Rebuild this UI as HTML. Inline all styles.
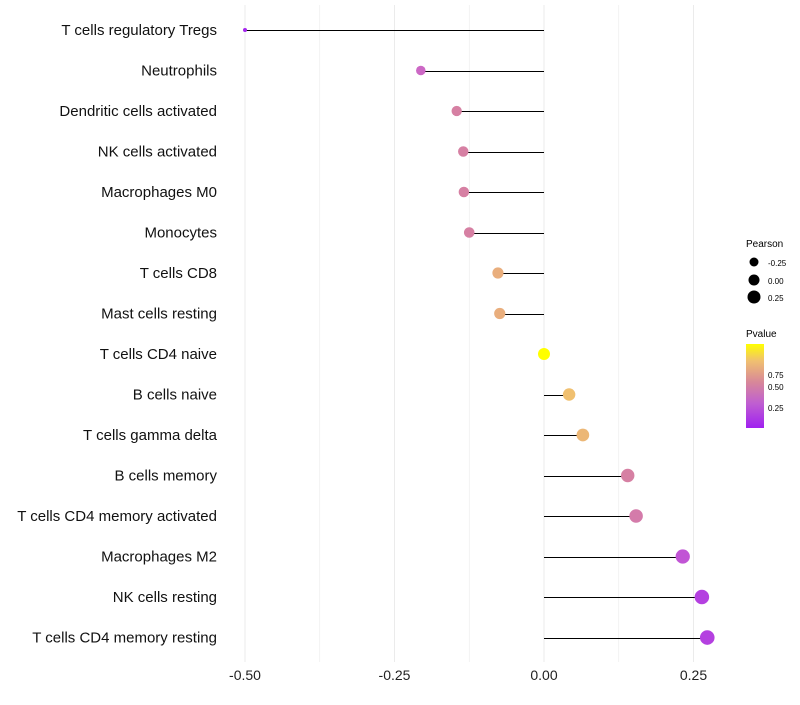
<!DOCTYPE html>
<html><head><meta charset="utf-8"><style>
body{margin:0;background:#fff;font-family:"Liberation Sans",sans-serif}
</style></head><body>
<svg id="c" width="800" height="700" xmlns="http://www.w3.org/2000/svg">
<defs><linearGradient id="pg" x1="0" y1="1" x2="0" y2="0">
<stop offset="0" stop-color="#a020f0"/><stop offset="0.3" stop-color="#c060d0"/><stop offset="0.55" stop-color="#d88898"/><stop offset="0.8" stop-color="#f0c070"/><stop offset="1" stop-color="#ffff00"/></linearGradient></defs>
<g id="grid"></g><g id="marks"></g><g id="labels"></g>
<g font-size="10" fill="#000">
<text x="746" y="247">Pearson</text>
<circle cx="754" cy="262" r="4.5"/><text x="768" y="266" font-size="8">-0.25</text>
<circle cx="754" cy="280" r="5.5"/><text x="768" y="284" font-size="8">0.00</text>
<circle cx="754" cy="297" r="6.5"/><text x="768" y="301" font-size="8">0.25</text>
<text x="746" y="337">Pvalue</text>
<rect x="746" y="344" width="18" height="84" fill="url(#pg)"/>
<text x="768" y="378" font-size="8">0.75</text>
<text x="768" y="390" font-size="8">0.50</text>
<text x="768" y="411" font-size="8">0.25</text>
</g>
</svg>
<script>
const categories=["T cells regulatory  Tregs","Neutrophils","Dendritic cells activated","NK cells activated","Macrophages M0","Monocytes","T cells CD8","Mast cells resting","T cells CD4 naive","B cells naive","T cells gamma delta","B cells memory","T cells CD4 memory activated","Macrophages M2","NK cells resting","T cells CD4 memory resting"];
const pearson=[-0.50,-0.206,-0.146,-0.135,-0.134,-0.125,-0.077,-0.074,0.0,0.042,0.065,0.140,0.154,0.232,0.264,0.273];
const pvalue=[0.03,0.35,0.5,0.5,0.5,0.5,0.72,0.72,1.0,0.8,0.76,0.5,0.47,0.25,0.15,0.15];
const xTicks=[-0.5,-0.25,0,0.25];
const xTickLabels=["-0.50","-0.25","0.00","0.25"];
const NS="http://www.w3.org/2000/svg";
const x=v=>544+v*598;
const y=i=>30+i*40.5;
const r=v=>Math.sqrt(Math.max(4,36+64*v));
function lerp(a,b,t){return a.map((c,k)=>Math.round(c+(b[k]-c)*t));}
const stops=[[0,[160,32,240]],[0.3,[200,96,208]],[0.55,[218,136,152]],[0.8,[240,192,112]],[1,[255,255,0]]];
function col(p){for(let k=1;k<stops.length;k++){if(p<=stops[k][0]){const t=(p-stops[k-1][0])/(stops[k][0]-stops[k-1][0]);return "rgb("+lerp(stops[k-1][1],stops[k][1],Math.max(0,t)).join(",")+")";}}return "rgb(255,255,0)";}
function mk(t,a,p){const e=document.createElementNS(NS,t);for(const k in a)e.setAttribute(k,a[k]);p.appendChild(e);return e;}
const G=document.getElementById('grid'),M=document.getElementById('marks'),L=document.getElementById('labels');
for(let v=-0.5;v<=0.3;v+=0.125){const g=mk('line',{x1:x(v),x2:x(v),y1:5,y2:662,stroke:'#ebebeb','stroke-width':Math.abs((v*8)%2)<0.01?1:0.6},G);

}
xTicks.forEach((v,i)=>{const t=mk('text',{x:x(v),y:680,'text-anchor':'middle','font-size':14,fill:'#222'},L);t.textContent=xTickLabels[i];

});
categories.forEach((c,i)=>{
const t=mk('text',{x:217,y:y(i)+5,'text-anchor':'end','font-size':15,fill:'#111'},L);t.textContent=c;


const ln=mk('line',{x1:x(0),x2:x(pearson[i]),y1:Math.round(y(i))+0.5,y2:Math.round(y(i))+0.5,stroke:'#000','stroke-width':1},M);


const d=mk('circle',{cx:x(pearson[i]),cy:y(i),r:r(pearson[i]),fill:col(pvalue[i])},M);


});
</script>
</body></html>
